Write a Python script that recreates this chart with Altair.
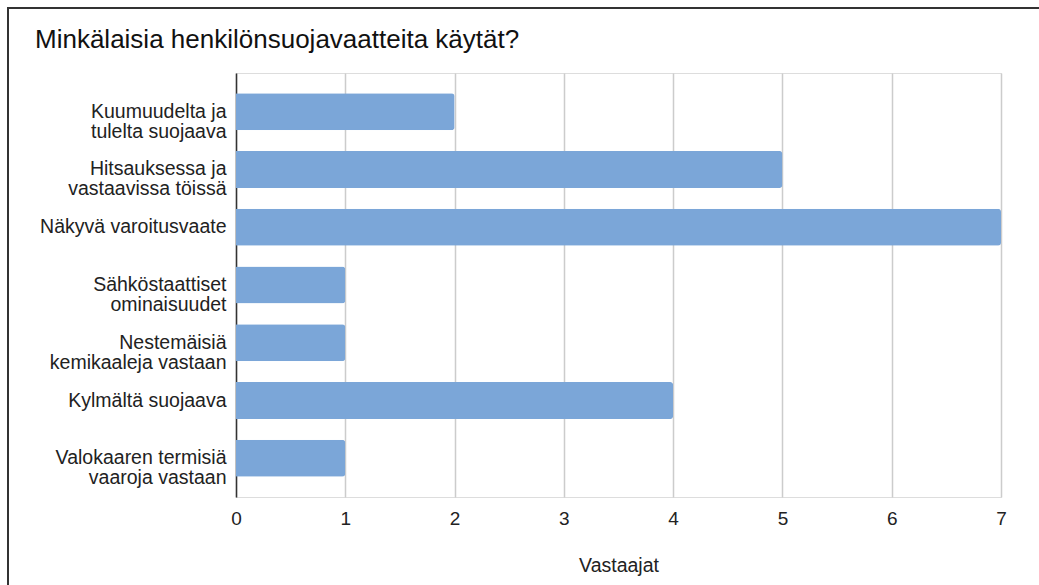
import altair as alt
import pandas as pd

categories = [
    "Kuumuudelta ja|tulelta suojaava",
    "Hitsauksessa ja|vastaavissa töissä",
    "Näkyvä varoitusvaate",
    "Sähköstaattiset|ominaisuudet",
    "Nestemäisiä|kemikaaleja vastaan",
    "Kylmältä suojaava",
    "Valokaaren termisiä|vaaroja vastaan",
]
values = [2, 5, 7, 1, 1, 4, 1]
x_ticks = [0, 1, 2, 3, 4, 5, 6, 7]
title_text = "Minkälaisia henkilönsuojavaatteita käytät?"

df = pd.DataFrame({"kategoria": categories, "vastaajat": values})

FONT = "Liberation Sans"

bars = alt.Chart(df).mark_bar(color="#7BA6D8", cornerRadiusEnd=3).encode(
    x=alt.X(
        "vastaajat:Q",
        scale=alt.Scale(domain=[0, 7], nice=False),
        axis=alt.Axis(
            title="Vastaajat",
            values=x_ticks,
            grid=True,
            gridColor="#CCCCCC",
            gridWidth=1.5,
            domain=False,
            ticks=False,
            labelFlush=False,
            labelPadding=12,
            labelFontSize=19,
            labelColor="#222222",
            labelFont=FONT,
            titleFont=FONT,
            titleFontSize=19.5,
            titleFontWeight="normal",
            titleColor="#222222",
            titlePadding=28,
            format="d",
        ),
    ),
    y=alt.Y(
        "kategoria:N",
        sort=categories,
        scale=alt.Scale(paddingInner=0.36, paddingOuter=0.35),
        axis=alt.Axis(
            title=None,
            grid=False,
            ticks=False,
            domain=True,
            domainColor="#333333",
            domainWidth=1.5,
            labelExpr="split(datum.label, '|')",
            labelFont=FONT,
            labelFontSize=19.5,
            labelLineHeight=20,
            labelColor="#222222",
            labelPadding=10,
            labelLimit=300,
        ),
    ),
)

frame = alt.Chart(alt.Data(values=[{}])).mark_rect(
    fill=None, stroke="#333333", strokeWidth=2
).encode(
    x=alt.value(-228),
    x2=alt.value(1200),
    y=alt.value(-65),
    y2=alt.value(800),
)

title = alt.Chart(alt.Data(values=[{"t": title_text}])).mark_text(
    align="left", baseline="alphabetic", font=FONT, fontSize=26, color="#111111"
).encode(
    text="t:N",
    x=alt.value(-201),
    y=alt.value(-25),
)

chart = alt.layer(frame, title, bars).properties(
    width=765,
    height=424,
    padding={"left": 236, "top": 73, "right": 38, "bottom": 88},
    autosize=alt.AutoSizeParams(type="none"),
).configure_view(stroke=None).configure(background="white")

chart.save("out.html", embed_options={"renderer": "svg", "actions": False})
